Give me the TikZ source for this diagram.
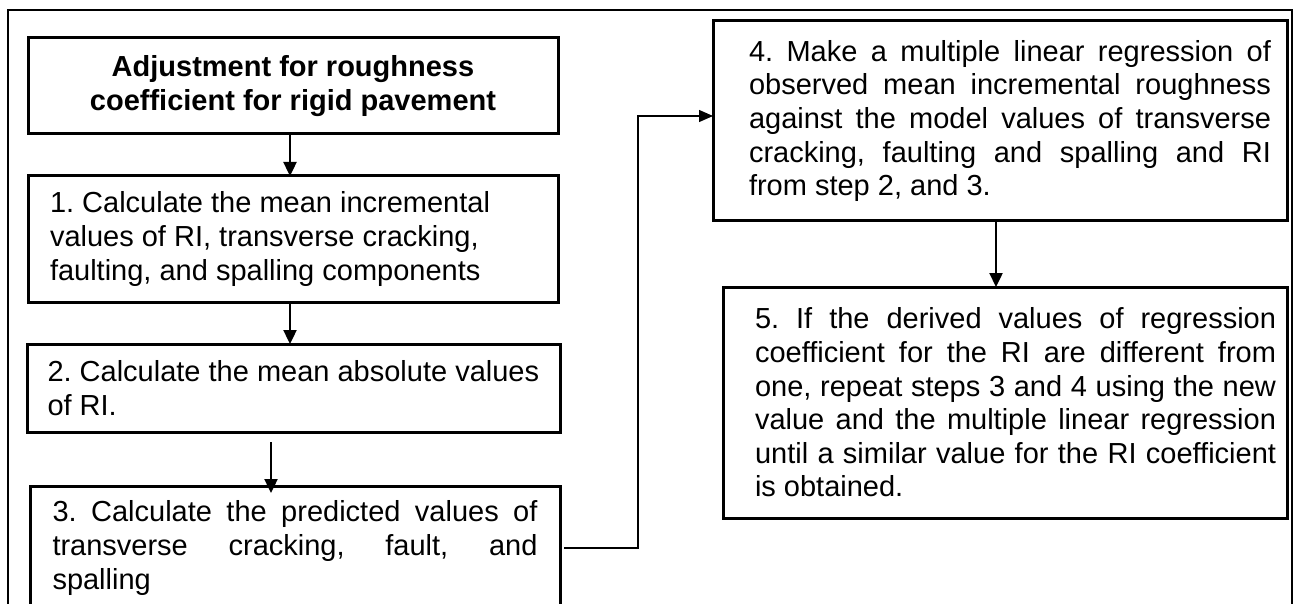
\documentclass[tikz,border=0pt]{standalone}
\usepackage{fontspec}
\setmainfont{Liberation Sans}
\usetikzlibrary{arrows.meta,calc}
\hbadness=10000
\hfuzz=4pt
\frenchspacing
% justified paragraph with forced line ends
\newcommand{\justpar}[2]{\parbox{#1}{\tolerance=10000\hyphenpenalty=10000 #2}}
\begin{document}
\begin{tikzpicture}[x=1pt,y=-1pt,
  every node/.style={inner sep=0pt, outer sep=0pt},
  stepbox/.style={draw, line width=3pt, anchor=north west,
    font=\fontsize{29}{33.6}\selectfont\frenchspacing},
  flow/.style={line width=2.4pt, -{Triangle[length=14pt,width=13pt]}},
  loopline/.style={line width=1.3pt, -{Triangle[length=14pt,width=12pt]}},
]
\clip (0,0) rectangle (1298,604);
\fill[white] (0,0) rectangle (1298,604);
% outer frame
\draw[line width=2.8pt] (8,640) -- (8,10) -- (1292,10) -- (1292,640);

% left column
\node[stepbox, minimum width=530pt, minimum height=96pt] (title) at (28,38)
  {\parbox{486pt}{\centering\bfseries Adjustment for roughness\\coefficient for rigid pavement}};
\node[stepbox, minimum width=530pt, minimum height=126pt] (b1) at (28,176)
  {\parbox{486pt}{\raggedright 1. Calculate the mean incremental\\values of RI, transverse cracking,\\faulting, and spalling components}};
\node[stepbox, minimum width=533pt, minimum height=88pt] (b2) at (27,344)
  {\parbox{492pt}{\raggedright 2. Calculate the mean absolute values\\of RI.}};
\node[stepbox, minimum width=530pt, minimum height=124pt] (b3) at (30,486)
  {\justpar{485pt}{3. Calculate the predicted values of\linebreak transverse cracking, fault, and\linebreak spalling}};

% right column
\node[stepbox, minimum width=574pt, minimum height=200pt] (b4) at (713,21)
  {\hspace{20pt}\justpar{522pt}{4. Make a multiple linear regression of\linebreak observed mean incremental roughness\linebreak against the model values of transverse\linebreak cracking, faulting and spalling and RI\linebreak from step 2, and 3.}\hspace{32pt}};
\node[stepbox, minimum width=564pt, minimum height=231pt] (b5) at (723,287)
  {\hspace{21pt}\justpar{521pt}{5. If the derived values of regression\linebreak coefficient for the RI are different from\linebreak one, repeat steps 3 and 4 using the new\linebreak value and the multiple linear regression\linebreak until a similar value for the RI coefficient\linebreak is obtained.}\hspace{22pt}};

% connectors
\draw[flow] ([xshift=-3pt]title.south) -- ([xshift=-3pt]title.south |- b1.north);
\draw[flow] ([xshift=-3pt]b1.south) -- ([xshift=-3pt]b1.south |- b2.north);
\draw[flow] ($(b2.south west)+(244,10)$) -- ($(b3.north west)+(241,7)$);
\draw[flow] ([xshift=-4pt]b4.south) -- ([xshift=-4pt]b4.south |- b5.north);
\draw[loopline] ([xshift=4pt]b3.east) -- ++(74pt,0pt) |- ([yshift=5pt]b4.west);
\end{tikzpicture}
\end{document}
